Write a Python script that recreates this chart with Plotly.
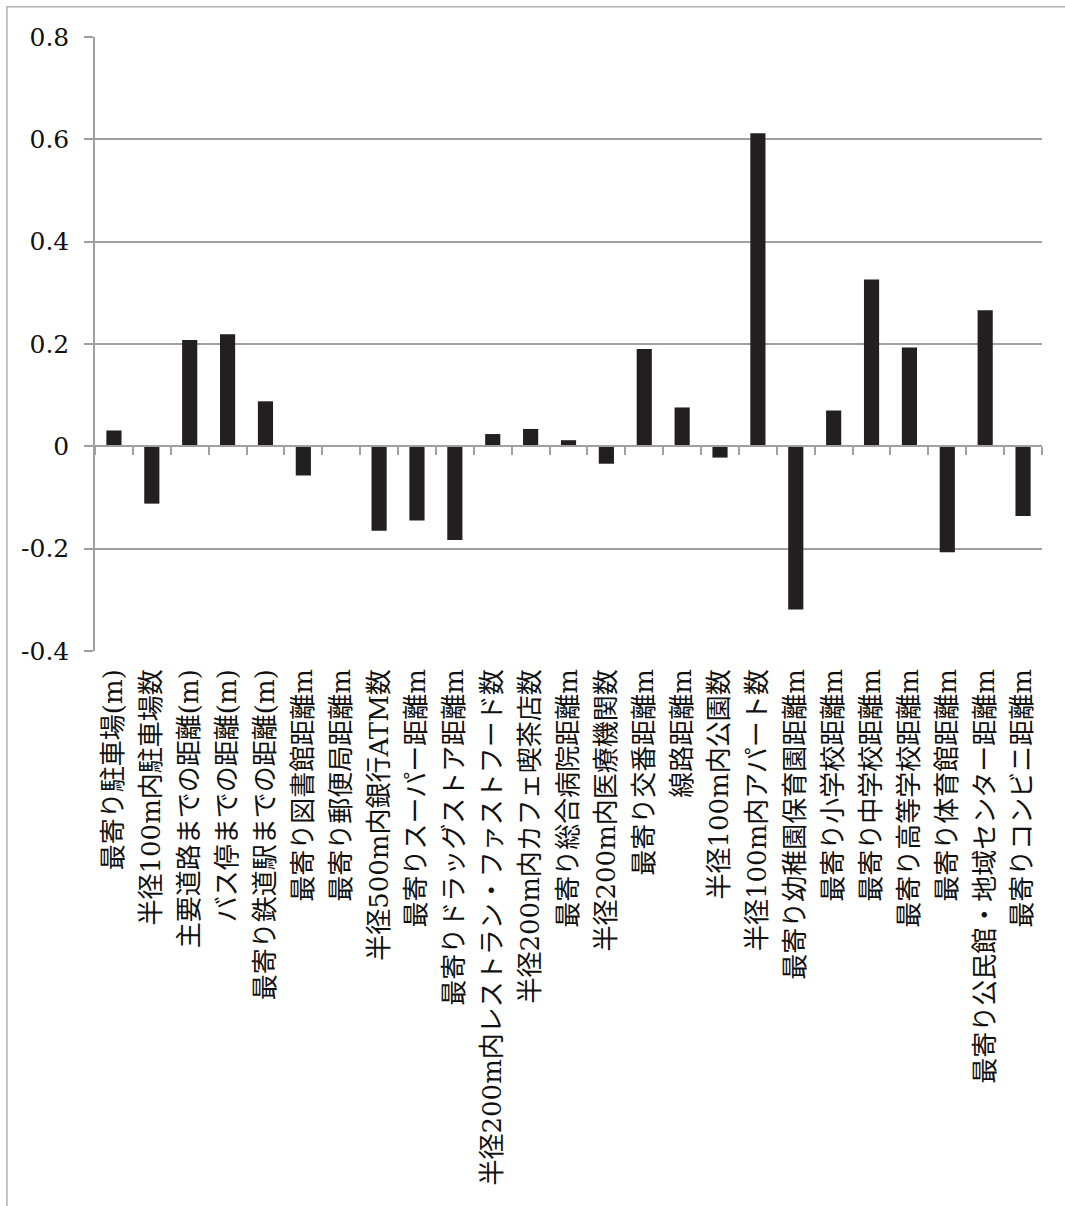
import plotly.graph_objects as go

# Category labels (facility / distance indicators)
categories = [
    "最寄り駐車場(m)",
    "半径100m内駐車場数",
    "主要道路までの距離(m)",
    "バス停までの距離(m)",
    "最寄り鉄道駅までの距離(m)",
    "最寄り図書館距離m",
    "最寄り郵便局距離m",
    "半径500m内銀行ATM数",
    "最寄りスーパー距離m",
    "最寄りドラッグストア距離m",
    "半径200m内レストラン・ファストフード数",
    "半径200m内カフェ喫茶店数",
    "最寄り総合病院距離m",
    "半径200m内医療機関数",
    "最寄り交番距離m",
    "線路距離m",
    "半径100m内公園数",
    "半径100m内アパート数",
    "最寄り幼稚園保育園距離m",
    "最寄り小学校距離m",
    "最寄り中学校距離m",
    "最寄り高等学校距離m",
    "最寄り体育館距離m",
    "最寄り公民館・地域センター距離m",
    "最寄りコンビニ距離m",
]

# Coefficient for each indicator
values = [
    0.031, -0.112, 0.208, 0.219, 0.088, -0.057, 0.0, -0.165, -0.145, -0.183,
    0.024, 0.034, 0.012, -0.034, 0.190, 0.076, -0.022, 0.612, -0.319, 0.070,
    0.326, 0.193, -0.207, 0.266, -0.136,
]

# Value-axis ticks
y_tickvals = [-0.4, -0.2, 0, 0.2, 0.4, 0.6, 0.8]
y_ticktext = ["-0.4", "-0.2", "0", "0.2", "0.4", "0.6", "0.8"]

GRID = "#a0a0a0"
BAR = "#231f20"
FONT = "DejaVu Serif, Noto Sans CJK JP, serif"

fig = go.Figure()

fig.add_trace(go.Bar(
    x=categories,
    y=values,
    marker=dict(color=BAR, line=dict(width=0)),
    showlegend=False,
    hoverinfo="x+y",
))

# Invisible companion trace so the category axis drawn on the zero line
# shares the same categories.
fig.add_trace(go.Scatter(
    x=categories,
    y=values,
    xaxis="x2",
    mode="markers",
    marker=dict(opacity=0),
    showlegend=False,
    hoverinfo="skip",
))

n = len(categories)

fig.update_layout(
    width=1065,
    height=1206,
    margin=dict(l=95, r=23, t=37, b=555),
    paper_bgcolor="white",
    plot_bgcolor="white",
    bargap=0.6,
    font=dict(family=FONT, color="#111111"),
    xaxis=dict(
        type="category",
        categoryorder="array",
        categoryarray=categories,
        range=[-0.5, n - 0.5],
        showgrid=False,
        showline=False,
        zeroline=False,
        ticks="",
        tickangle=-90,
        tickfont=dict(family=FONT, size=26, color="#111111"),
        ticklabelstandoff=12,
    ),
    xaxis2=dict(
        type="category",
        categoryorder="array",
        categoryarray=categories,
        range=[-0.5, n - 0.5],
        overlaying="x",
        anchor="free",
        position=1 / 3,
        side="bottom",
        showline=True,
        linecolor=GRID,
        linewidth=1.5,
        showgrid=False,
        zeroline=False,
        ticks="outside",
        tickson="boundaries",
        ticklen=8,
        tickwidth=1.5,
        tickcolor=GRID,
        showticklabels=False,
    ),
    yaxis=dict(
        range=[-0.4, 0.8],
        tickvals=y_tickvals,
        ticktext=y_ticktext,
        showgrid=True,
        gridcolor=GRID,
        gridwidth=1.5,
        zeroline=False,
        showline=True,
        linecolor=GRID,
        linewidth=1.5,
        ticks="outside",
        ticklen=9,
        tickwidth=1.5,
        tickcolor=GRID,
        tickfont=dict(family=FONT, size=25, color="#111111"),
        ticklabelstandoff=10,
    ),
    shapes=[
        # Outer frame around the chart
        dict(
            type="rect",
            xref="paper", yref="paper",
            x0=-0.093, x1=1.2, y0=-1.5, y1=1.0494,
            line=dict(color="#b0b0b0", width=1.5),
            fillcolor="rgba(0,0,0,0)",
            layer="below",
        ),
    ],
)

fig.write_html("out.html")
